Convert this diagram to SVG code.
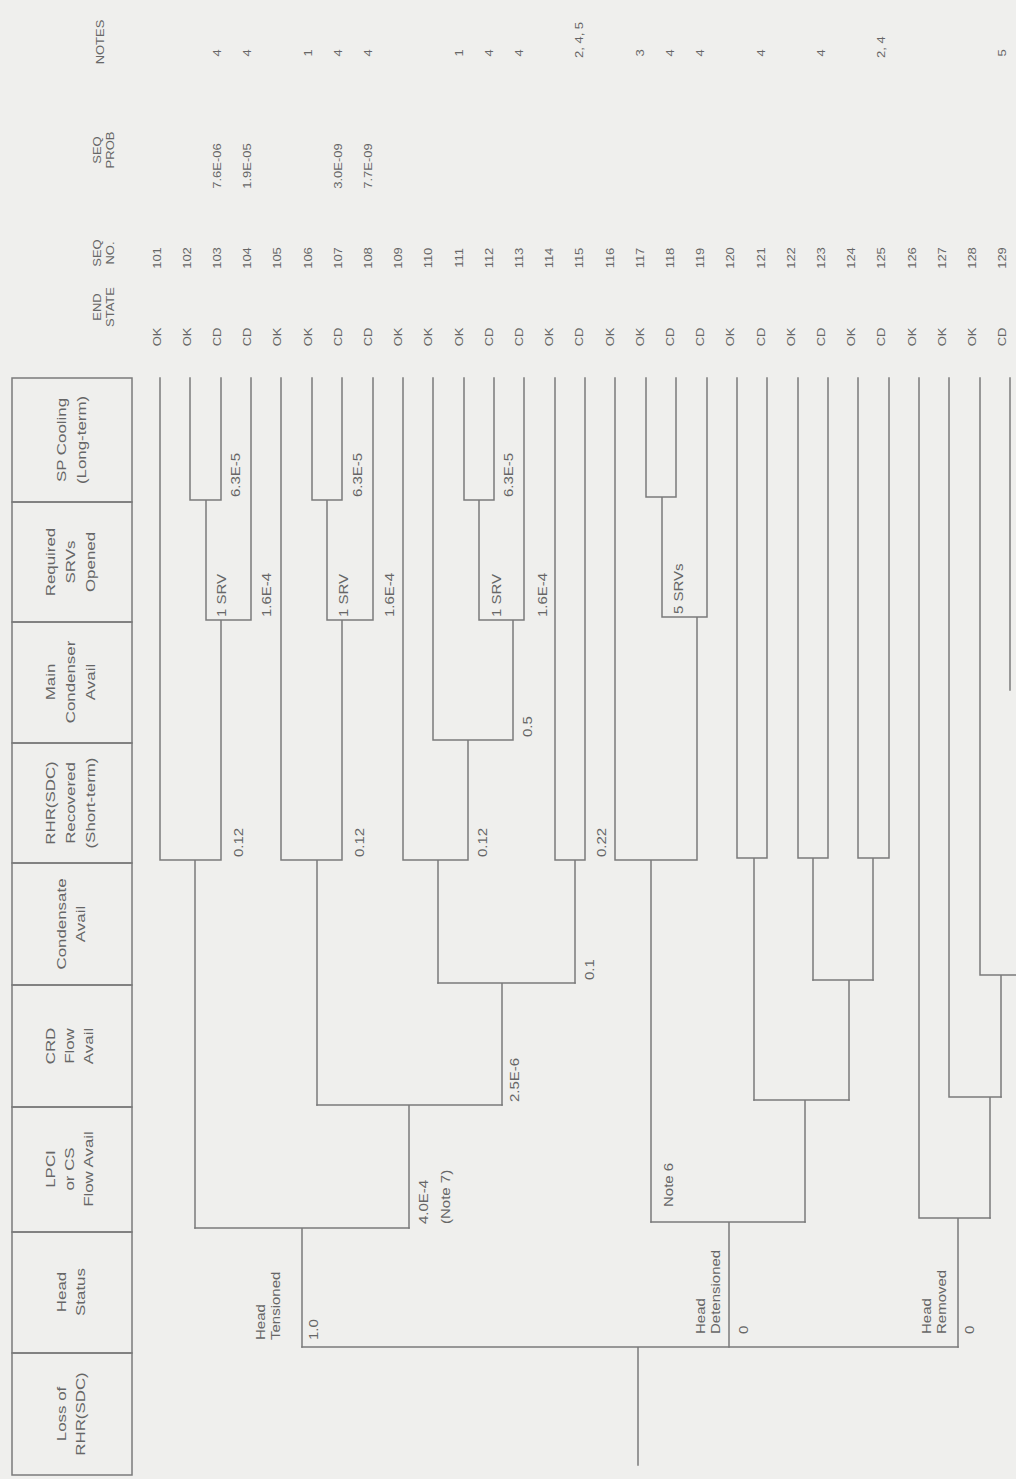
<svg xmlns="http://www.w3.org/2000/svg" width="1016" height="1479" viewBox="0 0 1016 1479">
<style>
.bg{fill:#efefed}
.ln{stroke:#7b7b7b;stroke-width:1.5;fill:none;stroke-linecap:square}
.box{stroke:#7b7b7b;stroke-width:1.5;fill:none}
text{font-family:"Liberation Sans",Arial,sans-serif;fill:#666}
.h{font-size:13px;text-anchor:middle}
.c{font-size:10px;text-anchor:middle}
.b{font-size:12px;text-anchor:start}
</style>
<rect class="bg" x="0" y="0" width="1016" height="1479"/>

<!-- header boxes -->
<g id="hdr-sp-cooling"><rect class="box" x="12" y="378" width="120" height="124"/>
<text class="h" transform="translate(66,440) rotate(-90) scale(1.3,1)"><tspan x="0">SP Cooling</tspan><tspan x="0" dy="20">(Long-term)</tspan></text></g>
<g id="hdr-srvs"><rect class="box" x="12" y="502" width="120" height="120"/>
<text class="h" transform="translate(55,562) rotate(-90) scale(1.3,1)"><tspan x="0">Required</tspan><tspan x="0" dy="20">SRVs</tspan><tspan x="0" dy="20">Opened</tspan></text></g>
<g id="hdr-main-condenser"><rect class="box" x="12" y="622" width="120" height="121"/>
<text class="h" transform="translate(55,682) rotate(-90) scale(1.3,1)"><tspan x="0">Main</tspan><tspan x="0" dy="20">Condenser</tspan><tspan x="0" dy="20">Avail</tspan></text></g>
<g id="hdr-rhr-recovered"><rect class="box" x="12" y="743" width="120" height="120"/>
<text class="h" transform="translate(55,803) rotate(-90) scale(1.3,1)"><tspan x="0">RHR(SDC)</tspan><tspan x="0" dy="20">Recovered</tspan><tspan x="0" dy="20">(Short-term)</tspan></text></g>
<g id="hdr-condensate"><rect class="box" x="12" y="863" width="120" height="122"/>
<text class="h" transform="translate(66,924) rotate(-90) scale(1.3,1)"><tspan x="0">Condensate</tspan><tspan x="0" dy="19">Avail</tspan></text></g>
<g id="hdr-crd"><rect class="box" x="12" y="985" width="120" height="122"/>
<text class="h" transform="translate(55,1046) rotate(-90) scale(1.3,1)"><tspan x="0">CRD</tspan><tspan x="0" dy="19">Flow</tspan><tspan x="0" dy="19">Avail</tspan></text></g>
<g id="hdr-lpci"><rect class="box" x="12" y="1107" width="120" height="125"/>
<text class="h" transform="translate(55,1169) rotate(-90) scale(1.3,1)"><tspan x="0">LPCI</tspan><tspan x="0" dy="19">or CS</tspan><tspan x="0" dy="19">Flow Avail</tspan></text></g>
<g id="hdr-head-status"><rect class="box" x="12" y="1232" width="120" height="121"/>
<text class="h" transform="translate(66,1292) rotate(-90) scale(1.3,1)"><tspan x="0">Head</tspan><tspan x="0" dy="19">Status</tspan></text></g>
<g id="hdr-loss"><rect class="box" x="12" y="1353" width="120" height="122"/>
<text class="h" transform="translate(66,1414) rotate(-90) scale(1.3,1)"><tspan x="0">Loss of</tspan><tspan x="0" dy="19">RHR(SDC)</tspan></text></g>

<!-- column headers -->
<g id="col-headers">
<text class="c" transform="translate(104,42) rotate(-90) scale(1.3,1)">NOTES</text>
<text class="c" transform="translate(101,150) rotate(-90) scale(1.3,1)"><tspan x="0">SEQ</tspan><tspan x="0" dy="13">PROB</tspan></text>
<text class="c" transform="translate(101,253) rotate(-90) scale(1.3,1)"><tspan x="0">SEQ</tspan><tspan x="0" dy="13">NO.</tspan></text>
<text class="c" transform="translate(101,307) rotate(-90) scale(1.3,1)"><tspan x="0">END</tspan><tspan x="0" dy="13">STATE</tspan></text>
</g>

<!-- connectors -->
<g id="connectors" class="ln">
<path d="M638,1465 V1347 M302,1347 H958"/>
<!-- head tensioned -->
<path d="M302,1347 V1228 M195,1228 H409"/>
<path d="M195,1228 V860 M160,378 V860 H221 V620 M206,620 H251 V378 M206,620 V500 M190,378 V500 H221 V378"/>
<path d="M409,1228 V1105 M317,1105 H502"/>
<path d="M317,1105 V860 M281,378 V860 H342 V620 M327,620 H373 V378 M327,620 V500 M312,378 V500 H342 V378"/>
<path d="M502,1105 V983 M438,983 H575"/>
<path d="M438,983 V860 M403,378 V860 H468 V740 M433,378 V740 H513 V620 M479,620 H524 V378 M479,620 V500 M464,378 V500 H494 V378"/>
<path d="M575,983 V860 M555,378 V860 H585 V378"/>
<!-- head detensioned -->
<path d="M729,1347 V1222 M651,1222 H805"/>
<path d="M651,1222 V860 M615,378 V860 H697 V617 M662,617 H707 V378 M662,617 V497 M646,378 V497 H676 V378"/>
<path d="M805,1222 V1100 M754,1100 H849"/>
<path d="M754,1100 V858 M737,378 V858 H767 V378"/>
<path d="M849,1100 V980 M813,980 H873"/>
<path d="M813,980 V858 M798,378 V858 H828 V378"/>
<path d="M873,980 V858 M858,378 V858 H889 V378"/>
<!-- head removed -->
<path d="M958,1347 V1218 M919,378 V1218 H990"/>
<path d="M990,1218 V1097 M949,378 V1097 H1001"/>
<path d="M1001,1097 V975 M980,378 V975 H1016"/>
<path d="M1010,378 V690"/>
</g>

<!-- branch labels -->
<g id="branch-labels">
<text class="b" transform="translate(243,857) rotate(-90) scale(1.25,1)">0.12</text>
<text class="b" transform="translate(364,857) rotate(-90) scale(1.25,1)">0.12</text>
<text class="b" transform="translate(487,857) rotate(-90) scale(1.25,1)">0.12</text>
<text class="b" transform="translate(532,737) rotate(-90) scale(1.25,1)">0.5</text>
<text class="b" transform="translate(606,857) rotate(-90) scale(1.25,1)">0.22</text>
<text class="b" transform="translate(594,980) rotate(-90) scale(1.25,1)">0.1</text>
<text class="b" transform="translate(519,1102) rotate(-90) scale(1.25,1)">2.5E-6</text>
<text class="b" transform="translate(428,1224) rotate(-90) scale(1.25,1)">4.0E-4</text>
<text class="b" transform="translate(450,1224) rotate(-90) scale(1.25,1)">(Note 7)</text>
<text class="b" transform="translate(240,497) rotate(-90) scale(1.25,1)">6.3E-5</text>
<text class="b" transform="translate(362,497) rotate(-90) scale(1.25,1)">6.3E-5</text>
<text class="b" transform="translate(513,497) rotate(-90) scale(1.25,1)">6.3E-5</text>
<text class="b" transform="translate(271,617) rotate(-90) scale(1.25,1)">1.6E-4</text>
<text class="b" transform="translate(394,617) rotate(-90) scale(1.25,1)">1.6E-4</text>
<text class="b" transform="translate(547,617) rotate(-90) scale(1.25,1)">1.6E-4</text>
<text class="b" transform="translate(226,617) rotate(-90) scale(1.25,1)">1 SRV</text>
<text class="b" transform="translate(348,617) rotate(-90) scale(1.25,1)">1 SRV</text>
<text class="b" transform="translate(501,617) rotate(-90) scale(1.25,1)">1 SRV</text>
<text class="b" transform="translate(683,614) rotate(-90) scale(1.25,1)">5 SRVs</text>
<text class="b" transform="translate(673,1207) rotate(-90) scale(1.25,1)">Note 6</text>
<text class="b" transform="translate(318,1340) rotate(-90) scale(1.25,1)">1.0</text>
<text class="b" transform="translate(748,1334) rotate(-90) scale(1.25,1)">0</text>
<text class="b" transform="translate(974,1334) rotate(-90) scale(1.25,1)">0</text>
<text class="b" transform="translate(265,1340) rotate(-90) scale(1.25,1)"><tspan x="0">Head</tspan><tspan x="0" dy="15">Tensioned</tspan></text>
<text class="b" transform="translate(705,1334) rotate(-90) scale(1.25,1)"><tspan x="0">Head</tspan><tspan x="0" dy="15">Detensioned</tspan></text>
<text class="b" transform="translate(931,1334) rotate(-90) scale(1.25,1)"><tspan x="0">Head</tspan><tspan x="0" dy="15">Removed</tspan></text>
</g>

<!-- sequences -->
<g id="seq-101"><text class="c" transform="translate(160.5,337) rotate(-90) scale(1.3,1)">OK</text><text class="c" transform="translate(160.5,258) rotate(-90) scale(1.3,1)">101</text></g>
<g id="seq-102"><text class="c" transform="translate(190.7,337) rotate(-90) scale(1.3,1)">OK</text><text class="c" transform="translate(190.7,258) rotate(-90) scale(1.3,1)">102</text></g>
<g id="seq-103"><text class="c" transform="translate(220.9,337) rotate(-90) scale(1.3,1)">CD</text><text class="c" transform="translate(220.9,258) rotate(-90) scale(1.3,1)">103</text><text class="c" transform="translate(220.9,166) rotate(-90) scale(1.3,1)">7.6E-06</text><text class="c" transform="translate(220.9,53) rotate(-90) scale(1.3,1)">4</text></g>
<g id="seq-104"><text class="c" transform="translate(251.1,337) rotate(-90) scale(1.3,1)">CD</text><text class="c" transform="translate(251.1,258) rotate(-90) scale(1.3,1)">104</text><text class="c" transform="translate(251.1,166) rotate(-90) scale(1.3,1)">1.9E-05</text><text class="c" transform="translate(251.1,53) rotate(-90) scale(1.3,1)">4</text></g>
<g id="seq-105"><text class="c" transform="translate(281.3,337) rotate(-90) scale(1.3,1)">OK</text><text class="c" transform="translate(281.3,258) rotate(-90) scale(1.3,1)">105</text></g>
<g id="seq-106"><text class="c" transform="translate(311.5,337) rotate(-90) scale(1.3,1)">OK</text><text class="c" transform="translate(311.5,258) rotate(-90) scale(1.3,1)">106</text><text class="c" transform="translate(311.5,53) rotate(-90) scale(1.3,1)">1</text></g>
<g id="seq-107"><text class="c" transform="translate(341.7,337) rotate(-90) scale(1.3,1)">CD</text><text class="c" transform="translate(341.7,258) rotate(-90) scale(1.3,1)">107</text><text class="c" transform="translate(341.7,166) rotate(-90) scale(1.3,1)">3.0E-09</text><text class="c" transform="translate(341.7,53) rotate(-90) scale(1.3,1)">4</text></g>
<g id="seq-108"><text class="c" transform="translate(371.9,337) rotate(-90) scale(1.3,1)">CD</text><text class="c" transform="translate(371.9,258) rotate(-90) scale(1.3,1)">108</text><text class="c" transform="translate(371.9,166) rotate(-90) scale(1.3,1)">7.7E-09</text><text class="c" transform="translate(371.9,53) rotate(-90) scale(1.3,1)">4</text></g>
<g id="seq-109"><text class="c" transform="translate(402.1,337) rotate(-90) scale(1.3,1)">OK</text><text class="c" transform="translate(402.1,258) rotate(-90) scale(1.3,1)">109</text></g>
<g id="seq-110"><text class="c" transform="translate(432.3,337) rotate(-90) scale(1.3,1)">OK</text><text class="c" transform="translate(432.3,258) rotate(-90) scale(1.3,1)">110</text></g>
<g id="seq-111"><text class="c" transform="translate(462.5,337) rotate(-90) scale(1.3,1)">OK</text><text class="c" transform="translate(462.5,258) rotate(-90) scale(1.3,1)">111</text><text class="c" transform="translate(462.5,53) rotate(-90) scale(1.3,1)">1</text></g>
<g id="seq-112"><text class="c" transform="translate(492.7,337) rotate(-90) scale(1.3,1)">CD</text><text class="c" transform="translate(492.7,258) rotate(-90) scale(1.3,1)">112</text><text class="c" transform="translate(492.7,53) rotate(-90) scale(1.3,1)">4</text></g>
<g id="seq-113"><text class="c" transform="translate(522.9,337) rotate(-90) scale(1.3,1)">CD</text><text class="c" transform="translate(522.9,258) rotate(-90) scale(1.3,1)">113</text><text class="c" transform="translate(522.9,53) rotate(-90) scale(1.3,1)">4</text></g>
<g id="seq-114"><text class="c" transform="translate(553.1,337) rotate(-90) scale(1.3,1)">OK</text><text class="c" transform="translate(553.1,258) rotate(-90) scale(1.3,1)">114</text></g>
<g id="seq-115"><text class="c" transform="translate(583.3,337) rotate(-90) scale(1.3,1)">CD</text><text class="c" transform="translate(583.3,258) rotate(-90) scale(1.3,1)">115</text><text class="c" style="text-anchor:start" transform="translate(583.3,58) rotate(-90) scale(1.3,1)">2, 4, 5</text></g>
<g id="seq-116"><text class="c" transform="translate(613.5,337) rotate(-90) scale(1.3,1)">OK</text><text class="c" transform="translate(613.5,258) rotate(-90) scale(1.3,1)">116</text></g>
<g id="seq-117"><text class="c" transform="translate(643.7,337) rotate(-90) scale(1.3,1)">OK</text><text class="c" transform="translate(643.7,258) rotate(-90) scale(1.3,1)">117</text><text class="c" transform="translate(643.7,53) rotate(-90) scale(1.3,1)">3</text></g>
<g id="seq-118"><text class="c" transform="translate(673.9,337) rotate(-90) scale(1.3,1)">CD</text><text class="c" transform="translate(673.9,258) rotate(-90) scale(1.3,1)">118</text><text class="c" transform="translate(673.9,53) rotate(-90) scale(1.3,1)">4</text></g>
<g id="seq-119"><text class="c" transform="translate(704.1,337) rotate(-90) scale(1.3,1)">CD</text><text class="c" transform="translate(704.1,258) rotate(-90) scale(1.3,1)">119</text><text class="c" transform="translate(704.1,53) rotate(-90) scale(1.3,1)">4</text></g>
<g id="seq-120"><text class="c" transform="translate(734.3,337) rotate(-90) scale(1.3,1)">OK</text><text class="c" transform="translate(734.3,258) rotate(-90) scale(1.3,1)">120</text></g>
<g id="seq-121"><text class="c" transform="translate(764.5,337) rotate(-90) scale(1.3,1)">CD</text><text class="c" transform="translate(764.5,258) rotate(-90) scale(1.3,1)">121</text><text class="c" transform="translate(764.5,53) rotate(-90) scale(1.3,1)">4</text></g>
<g id="seq-122"><text class="c" transform="translate(794.7,337) rotate(-90) scale(1.3,1)">OK</text><text class="c" transform="translate(794.7,258) rotate(-90) scale(1.3,1)">122</text></g>
<g id="seq-123"><text class="c" transform="translate(824.9,337) rotate(-90) scale(1.3,1)">CD</text><text class="c" transform="translate(824.9,258) rotate(-90) scale(1.3,1)">123</text><text class="c" transform="translate(824.9,53) rotate(-90) scale(1.3,1)">4</text></g>
<g id="seq-124"><text class="c" transform="translate(855.1,337) rotate(-90) scale(1.3,1)">OK</text><text class="c" transform="translate(855.1,258) rotate(-90) scale(1.3,1)">124</text></g>
<g id="seq-125"><text class="c" transform="translate(885.3,337) rotate(-90) scale(1.3,1)">CD</text><text class="c" transform="translate(885.3,258) rotate(-90) scale(1.3,1)">125</text><text class="c" style="text-anchor:start" transform="translate(885.3,58) rotate(-90) scale(1.3,1)">2, 4</text></g>
<g id="seq-126"><text class="c" transform="translate(915.5,337) rotate(-90) scale(1.3,1)">OK</text><text class="c" transform="translate(915.5,258) rotate(-90) scale(1.3,1)">126</text></g>
<g id="seq-127"><text class="c" transform="translate(945.7,337) rotate(-90) scale(1.3,1)">OK</text><text class="c" transform="translate(945.7,258) rotate(-90) scale(1.3,1)">127</text></g>
<g id="seq-128"><text class="c" transform="translate(975.9,337) rotate(-90) scale(1.3,1)">OK</text><text class="c" transform="translate(975.9,258) rotate(-90) scale(1.3,1)">128</text></g>
<g id="seq-129"><text class="c" transform="translate(1006.1,337) rotate(-90) scale(1.3,1)">CD</text><text class="c" transform="translate(1006.1,258) rotate(-90) scale(1.3,1)">129</text><text class="c" transform="translate(1006.1,53) rotate(-90) scale(1.3,1)">5</text></g>
</svg>
